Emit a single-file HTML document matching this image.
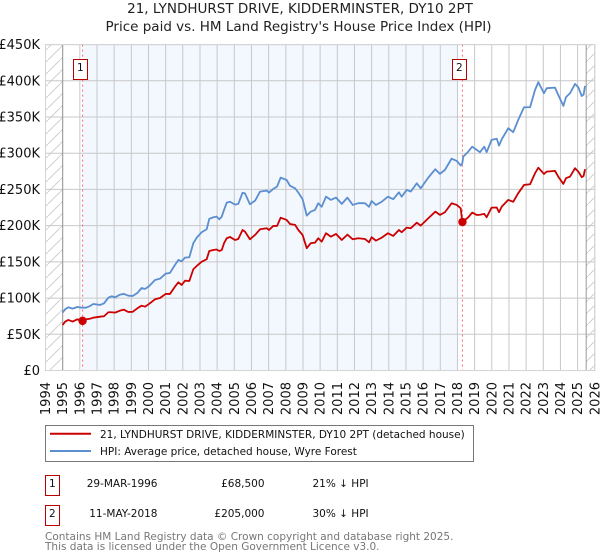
<!DOCTYPE html>
<html>
<head>
<meta charset="utf-8">
<title>21, Lyndhurst Drive price chart</title>
<style>
html,body{margin:0;padding:0;background:#fff;}
svg{display:block;font-family:"DejaVu Sans","Liberation Sans",sans-serif;}
</style>
</head>
<body>
<svg id="chart" width="600" height="560" viewBox="0 0 600 560" xmlns="http://www.w3.org/2000/svg">
<defs>
<pattern id="hatch" width="12" height="12" patternUnits="userSpaceOnUse">
<path d="M-1 13 L13 -1" stroke="#d0d0d0" stroke-width="1" fill="none"/>
</pattern>
</defs>
<text x="300" y="13" text-anchor="middle" font-size="13.5" fill="#222">21, LYNDHURST DRIVE, KIDDERMINSTER, DY10 2PT</text>
<text x="298.5" y="31" text-anchor="middle" font-size="13.5" fill="#222">Price paid vs. HM Land Registry's House Price Index (HPI)</text>
<g id="plot"></g>
<g>
<rect x="45.5" y="425.5" width="428" height="36" fill="#fff" stroke="#777" stroke-width="1"/>
<line x1="50" x2="91" y1="433.7" y2="433.7" stroke="#cc0000" stroke-width="2"/>
<text x="100" y="438" font-size="10.5" fill="#111">21, LYNDHURST DRIVE, KIDDERMINSTER, DY10 2PT (detached house)</text>
<line x1="50" x2="91" y1="451" y2="451" stroke="#5b8fd0" stroke-width="2"/>
<text x="100" y="455" font-size="10.5" fill="#111">HPI: Average price, detached house, Wyre Forest</text>
</g>
<g>
<rect x="45.5" y="475.5" width="14" height="20" fill="#fff" stroke="#bb0000" stroke-width="1"/>
<text x="52.3" y="487" text-anchor="middle" font-size="10.5" fill="#111">1</text>
<text x="157.5" y="487" text-anchor="end" font-size="10.5" fill="#111">29-MAR-1996</text>
<text x="264.5" y="487" text-anchor="end" font-size="10.5" fill="#111">£68,500</text>
<text x="312.5" y="487" font-size="10.5" fill="#111">21% ↓ HPI</text>
<rect x="45.5" y="505.5" width="14" height="20" fill="#fff" stroke="#bb0000" stroke-width="1"/>
<text x="52.3" y="517" text-anchor="middle" font-size="10.5" fill="#111">2</text>
<text x="157.5" y="517" text-anchor="end" font-size="10.5" fill="#111">11-MAY-2018</text>
<text x="264.5" y="517" text-anchor="end" font-size="10.5" fill="#111">£205,000</text>
<text x="312.5" y="517" font-size="10.5" fill="#111">30% ↓ HPI</text>
</g>
<text x="45" y="540" font-size="10.5" fill="#777">Contains HM Land Registry data © Crown copyright and database right 2025.</text>
<text x="45" y="550" font-size="10.5" fill="#777">This data is licensed under the Open Government Licence v3.0.</text>
</svg>
<script>
const yearTicks = [1994,1995,1996,1997,1998,1999,2000,2001,2002,2003,2004,2005,2006,2007,2008,2009,2010,2011,2012,2013,2014,2015,2016,2017,2018,2019,2020,2021,2022,2023,2024,2025,2026];
const valueTicks = [0,50,100,150,200,250,300,350,400,450];
const valueTickLabels = ['£0','£50K','£100K','£150K','£200K','£250K','£300K','£350K','£400K','£450K'];
const dates = [
1995.0,1995.14,1995.33,1995.58,1995.85,1996.14,1996.36,1996.59,1996.78,1997.18,
1997.41,1997.66,1997.86,1998.05,1998.34,1998.57,1998.82,1999.08,1999.35,1999.60,
1999.80,2000.03,2000.38,2000.67,2001.00,2001.25,2001.54,2001.74,2001.93,2002.13,
2002.38,2002.61,2002.81,2003.10,2003.39,2003.54,2003.78,2003.97,2004.13,2004.27,
2004.40,2004.56,2004.75,2005.04,2005.23,2005.48,2005.62,2005.91,2006.21,2006.50,
2006.89,2007.02,2007.27,2007.49,2007.70,2008.05,2008.24,2008.54,2008.73,2008.98,
2009.22,2009.45,2009.70,2009.89,2010.09,2010.34,2010.62,2010.93,2011.26,2011.59,
2011.90,2012.22,2012.61,2012.85,2013.00,2013.25,2013.59,2013.95,2014.26,2014.59,
2014.75,2015.04,2015.28,2015.63,2015.86,2016.30,2016.71,2016.98,2017.27,2017.66,
2017.96,2018.19,2018.28,2018.34,2018.63,2018.86,2019.12,2019.31,2019.56,2019.70,
2019.99,2020.29,2020.42,2020.58,2020.96,2021.25,2021.54,2021.88,2022.23,2022.52,
2022.71,2023.04,2023.20,2023.68,2023.87,2024.17,2024.32,2024.56,2024.85,2025.04,2025.24,2025.35,2025.43];
const hpiValues = [
80,84.5,87.3,85.4,87.7,86.7,86.7,89,91.8,90.5,
92.8,100.5,102.5,101,104.7,105.7,103.3,102.9,107,113.9,
112.6,116.3,125,126.8,133.7,134.7,145.7,152.6,150.8,155.8,
156.4,175.7,183.4,190.9,195,209.2,211.6,212.5,208.8,212.5,
221.7,231.8,233,229,230,245.4,244.5,229.6,234.5,247,
248.3,245.6,250.7,253.9,266.3,263,255.2,251.6,245.6,236.5,
213.8,219.3,221.7,230.9,226,240,235.5,238.7,230,238.7,
228.6,231,231,226,234,228.6,233,240,236.5,246,
240,249.3,247,258.5,251.6,266.3,277.9,271.4,277,292.5,
289.4,282.9,286,295.3,302.2,309,304.6,301.4,309,301.4,
318.4,320,310.5,319.3,334.5,329,346,363.5,363.5,387.4,
398,382.9,389.8,390.6,380.5,365.3,377.3,382.9,395.7,391,379,381,393];
const priceValues = [
62.8,67.4,69.8,67.6,70.7,68.5,70.7,71.5,72.9,74.3,
74.9,80.4,80.4,79.9,82.6,84,80.8,81,85.9,89.5,
88.1,91.9,98.3,100.1,105.7,105.7,115.7,121.8,118.1,124,
123.6,139.8,144.3,150.3,153.6,165,166.4,167,165,166.4,
175.7,182.6,184.4,180.2,181.6,194,191.7,181.2,187.2,195,
196.4,194,199.6,199.6,211,207.9,202.3,201,194,187,
168.8,175.7,176.5,182.6,177.9,189.5,184.8,188.5,180.2,187.6,
181.2,182.6,181.6,177,184,179.3,183.4,189.5,185.8,194,
190.9,197.2,196.4,204.1,200,210.2,219.3,214.8,218.5,230.9,
228.6,224,205,206,211.6,218,214.8,215,216.2,211.6,
224.9,225,218.5,226.2,235.5,233,244.8,256.2,257.2,272.4,
280,271.4,274.6,275.6,267.7,257.6,265.5,267.7,279.3,274.6,266.9,268.6,277.9];
const saleDates = [1996.16,2018.29];
const salePrices = [68.5,205];
const saleLabels = ['1','2'];

const NS = 'http://www.w3.org/2000/svg';
const plot = document.getElementById('plot');
function xAxis(year){ return 45.5 + (year - 1994) * 17.165; }
function yAxis(value){ return 370.5 - value * 0.7243; }
function add(tag, attrs, parent){
  const el = document.createElementNS(NS, tag);
  for (const k in attrs) el.setAttribute(k, attrs[k]);
  (parent || plot).appendChild(el);
  return el;
}
const left = xAxis(1994), right = xAxis(2026), top_ = yAxis(450), bottom = yAxis(0);
const dataStart = xAxis(1995), dataEnd = xAxis(2025.5);

const shade = add('rect', {x: xAxis(saleDates[0]), y: top_, width: xAxis(2018) - xAxis(saleDates[0]), height: bottom - top_, fill: '#f3f7fe'});



const hatchL = add('rect', {x: left, y: top_, width: dataStart - left, height: bottom - top_, fill: 'url(#hatch)'});


const hatchR = add('rect', {x: dataEnd, y: top_, width: right - dataEnd, height: bottom - top_, fill: 'url(#hatch)'});



valueTicks.forEach(function(v, i){
  const g = add('line', {x1: left, x2: right, y1: yAxis(v), y2: yAxis(v), stroke: '#c8c8c8', 'stroke-width': 1});
  
  
  const t = add('text', {x: 40, y: yAxis(v) + 4.5, 'text-anchor': 'end', 'font-size': 13, fill: '#111'});
  
  
  t.textContent = valueTickLabels[i];
});
yearTicks.forEach(function(yr){
  const g = add('line', {x1: xAxis(yr), x2: xAxis(yr), y1: top_, y2: bottom, stroke: '#c8c8c8', 'stroke-width': 1});
  
  
  const t = add('text', {transform: 'translate(' + (xAxis(yr) + 4.5) + ',382) rotate(-90)', 'text-anchor': 'end', 'font-size': 13, fill: '#111'});
  
  
  t.textContent = yr;
});

const edgeL = add('line', {x1: dataStart, x2: dataStart, y1: top_, y2: bottom, stroke: '#999', 'stroke-width': 1});


const edgeR = add('line', {x1: dataEnd, x2: dataEnd, y1: top_, y2: bottom, stroke: '#999', 'stroke-width': 1});



saleDates.forEach(function(d){
  const v = add('line', {x1: xAxis(d), x2: xAxis(d), y1: top_, y2: bottom, stroke: '#ff6b78', 'stroke-width': 1, 'stroke-dasharray': '2 3'});
  
  
});

function pathFrom(values){
  return values.map(function(v, i){ return (i ? 'L' : 'M') + xAxis(dates[i]).toFixed(2) + ' ' + yAxis(v).toFixed(2); }).join(' ');
}
const hpiLine = add('path', {d: pathFrom(hpiValues), fill: 'none', stroke: '#5b8fd0', 'stroke-width': 1.8, 'stroke-linejoin': 'round'});


const priceLine = add('path', {d: pathFrom(priceValues), fill: 'none', stroke: '#cc0000', 'stroke-width': 1.8, 'stroke-linejoin': 'round'});



saleDates.forEach(function(d, i){
  const c = add('circle', {cx: xAxis(d), cy: yAxis(salePrices[i]), r: 4.2, fill: '#cc0000'});
  
  
  const bx = xAxis(d) - 10;
  const b = add('rect', {x: Math.round(bx) + 0.5, y: 59.5, width: 14, height: 20, fill: '#fff', stroke: '#bb0000', 'stroke-width': 1});
  
  
  const t = add('text', {x: Math.round(bx) + 7.3, y: 71, 'text-anchor': 'middle', 'font-size': 10.5, fill: '#111'});
  
  
  t.textContent = saleLabels[i];
});

const border = add('rect', {x: left, y: top_, width: right - left, height: bottom - top_, fill: 'none', stroke: '#d4d4d4', 'stroke-width': 1});


</script>
</body>
</html>
